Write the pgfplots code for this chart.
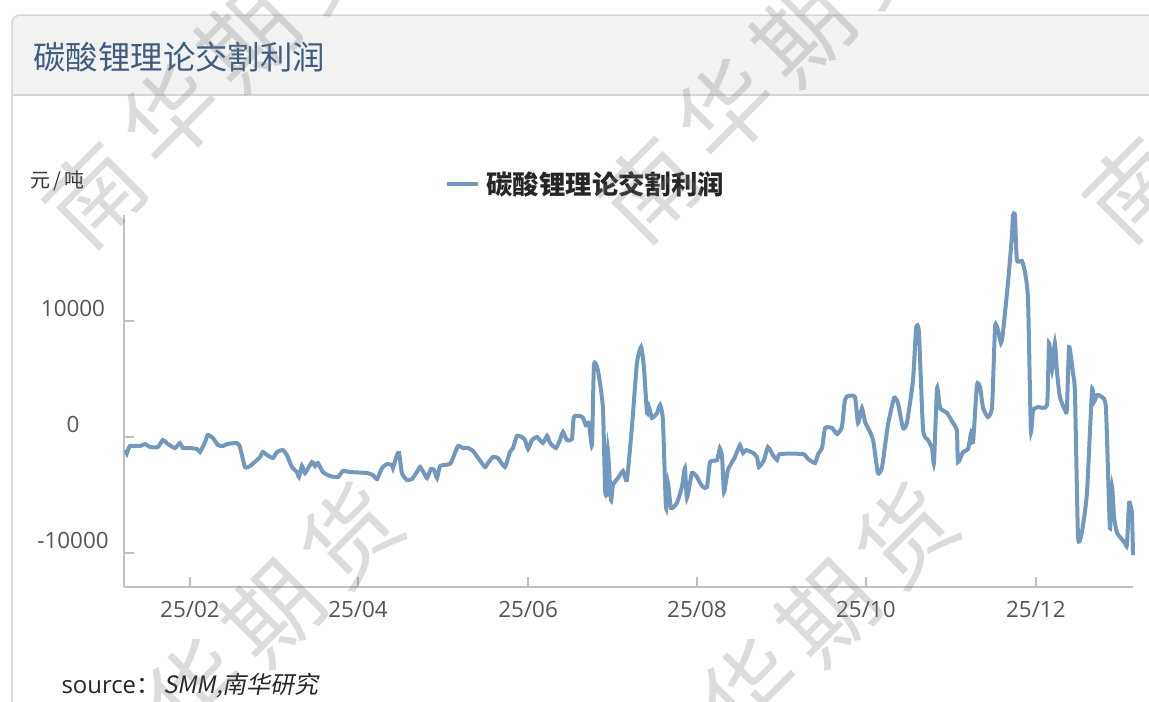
\documentclass[border=0pt]{standalone}
\usepackage{fontspec}
\setmainfont{Open Sans}
\newfontfamily\cjk{Noto Sans CJK SC}
\newfontfamily\cjkslant[FakeSlant=0.2]{Noto Sans CJK SC}
\usepackage{pgfplots}
\pgfplotsset{compat=1.18}
\definecolor{linecol}{RGB}{114,152,189}
\definecolor{titlecol}{RGB}{62,92,128}
\definecolor{axiscol}{RGB}{192,192,192}
\definecolor{tickcol}{RGB}{85,85,85}
\definecolor{headfill}{RGB}{242,242,242}
\definecolor{cardline}{RGB}{214,214,214}
\definecolor{wm}{RGB}{120,120,120}
\begin{document}
\begin{tikzpicture}
\path[use as bounding box] (0,0) rectangle (1149bp,-702bp);
% card with grey header
\begin{scope}
\clip[rounded corners=8bp] (12bp,-15bp) rectangle (1220bp,-780bp);
\fill[headfill] (12bp,-15bp) rectangle (1220bp,-95bp);
\end{scope}
\draw[cardline, line width=1.5bp] (12bp,-95bp) -- (1220bp,-95bp);
\draw[cardline, line width=1.5bp, rounded corners=8bp] (12bp,-15bp) rectangle (1220bp,-780bp);
\node[anchor=west, text=titlecol, font=\cjk\fontsize{32.5}{32.5}\selectfont] at (30bp,-57bp) {碳酸锂理论交割利润};
\node[anchor=west, text=black!80, font=\cjk\fontsize{20}{20}\selectfont] at (27bp,-181bp) {元\,/\,吨};
% legend
\draw[linecol, line width=4bp] (447bp,-184bp) -- (478bp,-184bp);
\node[anchor=west, text=black!85, font=\cjk\bfseries\fontsize{26.5}{26.5}\selectfont] at (483bp,-184bp) {碳酸锂理论交割利润};

\begin{axis}[at={(124bp,-587bp)}, anchor=south west, scale only axis,
  width=1009bp, height=372bp,
  xmin=7.36, xmax=368.8, ymin=-12930, ymax=19140,
  axis x line*=bottom, axis y line*=left,
  axis line style={axiscol, line width=1.5bp},
  xtick={31,91.2,152.1,212.6,273.1,334},
  xticklabels={25/02,25/04,25/06,25/08,25/10,25/12},
  ytick={-10000,0,10000},
  tick align=inside, major tick length=10bp,
  tick style={axiscol, line width=1.3bp},
  /pgf/number format/assume math mode=true,
  /pgf/number format/1000 sep={},
  scaled y ticks=false,
  xticklabel style={font=\fontsize{22.5}{22.5}\selectfont, text=tickcol, yshift=-11bp},
  yticklabel style={font=\fontsize{22.5}{22.5}\selectfont, text=tickcol, anchor=center, xshift=-51bp, yshift=12.5bp},
  clip=false]
% 碳酸锂理论交割利润, 元/吨; x = days since 2025-01-01
\addplot[linecol, line width=4bp, smooth, tension=0.3] coordinates {
(8.1,-1121) (8.4,-1379) (9.5,-776) (13.1,-776) (14.9,-603) (16.7,-862) (19.5,-862)
(21.3,-259) (23.1,-603) (25.6,-948) (27.4,-517) (28.5,-948) (31.0,-948) (33.5,-1035)
(34.6,-1293) (36.4,-431) (37.4,172) (39.2,-86) (41.0,-690) (42.8,-776) (44.3,-603)
(47.8,-517) (48.9,-862) (50.7,-2586) (52.5,-2500) (55.0,-1983) (56.1,-1724) (57.1,-1293)
(58.6,-1552) (60.7,-1810) (62.2,-1293) (64.3,-1121) (65.7,-1552) (67.5,-2586) (69.3,-3017)
(70.0,-3448) (71.1,-2500) (72.2,-3104) (74.7,-2155) (75.8,-2500) (76.8,-2241) (78.6,-3017)
(81.1,-3362) (84.0,-3448) (85.8,-2931) (88.3,-3017) (94.4,-3104) (96.5,-3276) (98.0,-3621)
(99.8,-2673) (101.6,-2328) (103.4,-2414) (103.7,-2673) (105.1,-1552) (105.9,-1379) (106.9,-3104)
(108.7,-3707) (110.5,-3621) (112.3,-3017) (113.4,-2586) (114.8,-3104) (115.9,-3535) (117.3,-2759)
(118.4,-2845) (119.5,-3535) (120.6,-2500) (124.1,-2328) (125.2,-1810) (127.0,-776) (128.8,-948)
(130.6,-948) (132.4,-1207) (134.2,-1810) (136.7,-2586) (137.7,-2241) (139.5,-1724) (141.3,-1810)
(143.8,-2586) (145.6,-1293) (146.7,-948) (148.1,86) (149.9,0) (151.0,-259) (152.1,-1035)
(153.5,-259) (155.3,0) (157.4,-517) (158.9,100) (160.0,-517) (162.1,-948) (163.5,-259)
(164.6,431) (166.0,-259) (167.8,-172) (168.5,1724) (170.7,1810) (171.8,1638) (172.8,1035)
(173.9,1207) (175.0,-690) (175.7,6207) (177.1,5776) (178.9,2586) (179.7,-4569) (180.4,-4828)
(180.7,-1121) (181.8,-5431) (182.5,-4138) (184.3,-3535) (186.1,-2931) (187.5,-3707) (189.3,862)
(191.1,6380) (192.6,7759) (193.6,6035) (194.7,2069) (195.4,2586) (196.5,1638) (198.3,2069)
(199.4,2759) (200.4,1466) (201.5,-6121) (202.2,-3966) (203.3,-6121) (205.4,-5690) (207.2,-4310)
(208.3,-2673) (209.0,-5259) (210.8,-3104) (212.6,-3448) (213.7,-3966) (214.8,-4310) (216.2,-4310)
(217.3,-2155) (219.8,-1983) (220.8,-948) (221.6,-1724) (222.3,-4742) (223.7,-2845) (226.2,-1724)
(228.0,-690) (229.1,-1379) (230.2,-1121) (232.7,-1379) (234.1,-1724) (234.8,-2586) (236.6,-1983)
(238.0,-862) (239.8,-1552) (241.3,-1983) (242.3,-1466) (250.6,-1466) (252.4,-1897) (254.9,-2241)
(256.0,-1466) (257.4,-948) (258.5,776) (261.0,776) (262.8,259) (264.5,862) (265.6,3190)
(266.7,3535) (269.2,3448) (270.3,1207) (271.7,2500) (272.8,1293) (273.9,776) (275.7,-259)
(277.4,-3104) (278.9,-2586) (281.0,1035) (283.2,3362) (284.6,2931) (286.4,776) (287.8,1207)
(290.0,4914) (291.1,9397) (292.1,9052) (293.6,603) (295.4,-259) (296.8,-948) (297.5,-2241)
(298.6,4224) (299.7,2500) (302.2,2069) (304.3,1207) (305.7,603) (306.1,-2155) (307.9,-1293)
(309.7,-1035) (310.8,345) (311.5,-431) (312.9,4483) (314.0,4310) (315.1,2500) (316.8,1724)
(318.3,2586) (319.4,9569) (320.4,9224) (321.5,8104) (322.2,8966) (324.0,13276) (325.4,17242)
(325.8,19100) (326.5,19100) (327.2,15259) (329.0,15173) (330.1,14225) (331.2,11811) (332.2,603)
(333.0,2328) (334.8,2586) (338.0,2759) (338.7,8104) (339.8,5776) (340.8,8104) (341.6,5517)
(342.6,3448) (344.4,2328) (345.1,2328) (345.9,7759) (347.3,5517) (348.0,3793) (349.1,-8621)
(350.5,-8190) (352.3,-4828) (354.1,4052) (354.8,3017) (355.9,3621) (357.7,3448) (359.1,2500)
(360.5,-7845) (361.3,-4310) (362.0,-6897) (363.1,-8276) (365.9,-9138) (366.6,-9311) (367.4,-5690)
(368.4,-6552) (368.8,-10173)
};
\end{axis}

\node[anchor=west, text=black!85, font=\fontsize{24}{24}\selectfont] at (58bp,-686bp) {source\cjk：\hspace{3bp}{\cjkslant SMM,南华研究}};

% watermark
\begin{scope}[every node/.style={rotate=45, text=wm, opacity=0.26, font=\cjk\fontsize{95}{95}\selectfont}]
\foreach \dx/\dy in {0/0, 555/-5, 1040/-5, 25/575, 580/575} {
  \node at ({(95+\dx)*1bp},{-(195+\dy)*1bp}) {南};
  \node at ({(170+\dx)*1bp},{-(115+\dy)*1bp}) {华};
  \node at ({(248+\dx)*1bp},{-(38+\dy)*1bp}) {期};
  \node at ({(325+\dx)*1bp},{-(-40+\dy)*1bp}) {货};
}
\end{scope}
\end{tikzpicture}
\end{document}
